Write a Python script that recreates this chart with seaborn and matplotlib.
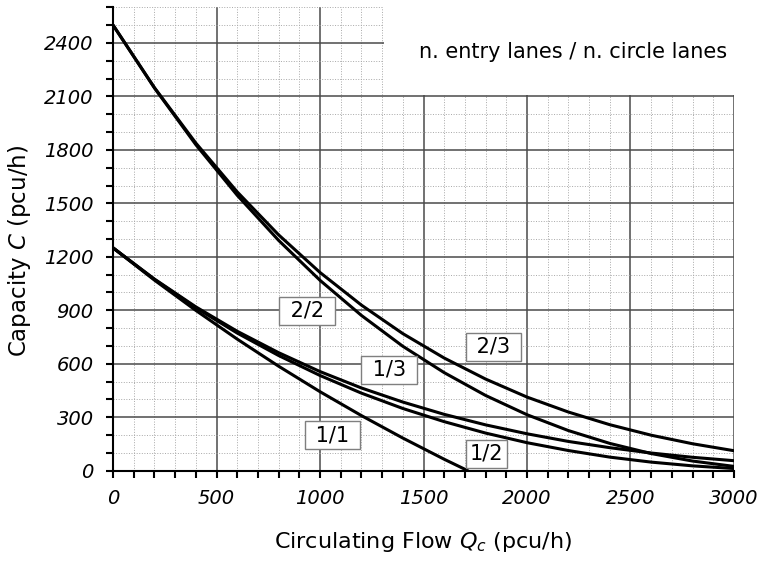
"""
Roundabout entry capacity vs circulating flow for different lane layouts.
"""
import matplotlib
matplotlib.use("Agg")
import matplotlib.pyplot as plt
from matplotlib.patches import Rectangle
from matplotlib.ticker import MultipleLocator
import pandas as pd
import seaborn as sns

sns.set_style("white")
plt.rcParams["font.family"] = ["DejaVu Sans"]
plt.rcParams["mathtext.fontset"] = "dejavusans"
plt.rcParams["text.color"] = "black"
plt.rcParams["axes.labelcolor"] = "black"
plt.rcParams["xtick.color"] = "black"
plt.rcParams["ytick.color"] = "black"

# circulating flow Qc (pcu/h)
qc = [0, 200, 400, 600, 800, 1000, 1200, 1400, 1600, 1800,
      2000, 2200, 2400, 2600, 2800, 3000]
qc_11 = [0, 200, 400, 600, 800, 1000, 1200, 1400, 1600, 1714]

# capacity C (pcu/h)
cap_11 = [1250, 1069, 899, 738, 586, 443, 309, 183, 64, 0]
cap_12 = [1250, 1073, 914, 772, 646, 534, 435, 349, 275, 211,
          157, 113, 76, 48, 27, 12]
cap_13 = [1250, 1075, 919, 782, 662, 556, 464, 385, 316, 257,
          207, 164, 129, 99, 75, 56]
cap_22 = [2500, 2147, 1829, 1545, 1292, 1068, 871, 698, 550, 422,
          314, 225, 153, 96, 54, 24]
cap_23 = [2500, 2149, 1838, 1564, 1323, 1112, 929, 769, 632, 514,
          413, 329, 258, 199, 151, 112]

curve_labels = ["1/1", "1/2", "1/3", "2/2", "2/3"]
label_x = [1058, 1804, 1333, 937, 1836]
label_y = [200, 94, 565, 897, 694]

fig, ax = plt.subplots(figsize=(7.59, 5.63), dpi=100)
fig.subplots_adjust(left=0.149, right=0.967, bottom=0.164, top=0.987)

series = [(qc_11, cap_11), (qc, cap_12), (qc, cap_13), (qc, cap_22), (qc, cap_23)]
for (xs, ys) in series:
    sns.lineplot(x=xs, y=ys, ax=ax, color="black", linewidth=2.2, zorder=3)

ax.set_xlim(0, 3000)
ax.set_ylim(0, 2600)
ax.xaxis.set_major_locator(MultipleLocator(500))
ax.xaxis.set_minor_locator(MultipleLocator(100))
ax.yaxis.set_major_locator(MultipleLocator(300))
ax.yaxis.set_minor_locator(MultipleLocator(100))
ax.set_axisbelow(True)
ax.grid(which="major", color="#4a4a4a", linewidth=1.1, linestyle="-")
ax.grid(which="minor", color="#a8a8a8", linewidth=0.7, linestyle=":")

for side in ["top", "right"]:
    ax.spines[side].set_visible(False)
for side in ["left", "bottom"]:
    ax.spines[side].set_color("black")
    ax.spines[side].set_linewidth(1.5)

ax.tick_params(which="both", direction="out", length=5, width=1.5,
               color="black", bottom=True, left=True)
ax.tick_params(axis="x", which="major", labelsize=14, pad=8)
ax.tick_params(axis="y", which="major", labelsize=14, pad=9)
for lbl in ax.get_xticklabels() + ax.get_yticklabels():
    lbl.set_fontstyle("italic")

# white area behind the legend note, hides the grid there
ax.add_patch(Rectangle((1310, 2108), 1720, 520, facecolor="white",
                       edgecolor="none", zorder=1, clip_on=False))
ax.text(2966, 2352, "n. entry lanes / n. circle lanes", fontsize=15,
        ha="right", va="center", zorder=4)

for name, x, y in zip(curve_labels, label_x, label_y):
    txt = name if name == "1/2" else f" {name} "
    ax.text(x, y, txt, fontsize=15, ha="center", va="center", zorder=5,
            bbox=dict(boxstyle="square,pad=0.2", facecolor="white",
                      edgecolor="#7f7f7f", linewidth=1.0))

ax.set_xlabel("Circulating Flow $Q_c$ (pcu/h)", fontsize=16, labelpad=16)
ax.set_ylabel("Capacity $C$ (pcu/h)", fontsize=16.5)
ax.yaxis.set_label_coords(-0.129, 0.474)

fig.savefig("out.png", dpi=100)
